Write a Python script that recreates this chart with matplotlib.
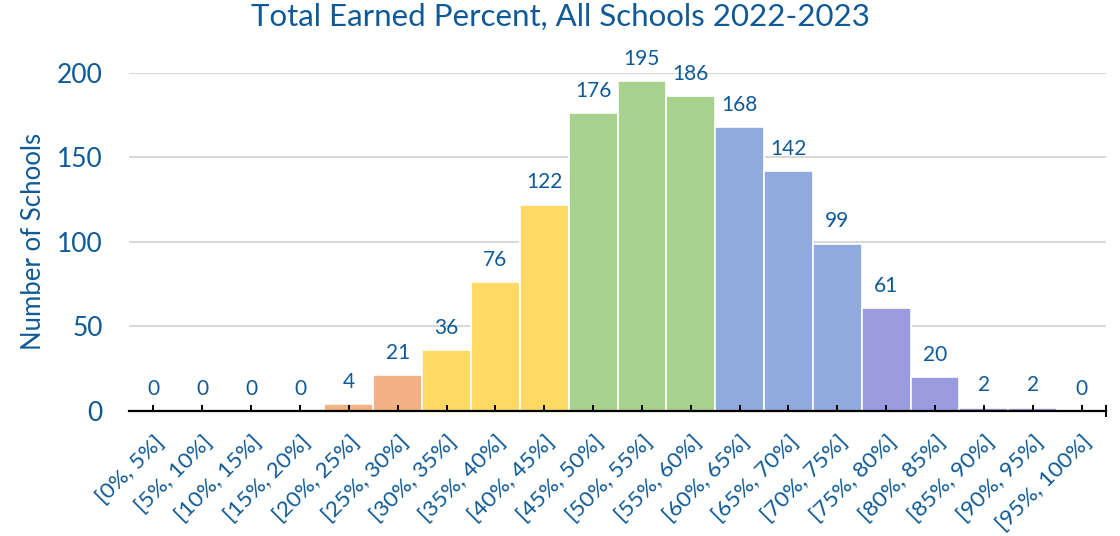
import matplotlib
matplotlib.use("Agg")
import matplotlib.pyplot as plt

categories = ["[0%, 5%]", "[5%, 10%]", "[10%, 15%]", "[15%, 20%]", "[20%, 25%]",
              "[25%, 30%]", "[30%, 35%]", "[35%, 40%]", "[40%, 45%]", "[45%, 50%]",
              "[50%, 55%]", "[55%, 60%]", "[60%, 65%]", "[65%, 70%]", "[70%, 75%]",
              "[75%, 80%]", "[80%, 85%]", "[85%, 90%]", "[90%, 95%]", "[95%, 100%]"]
counts = [0, 0, 0, 0, 4, 21, 36, 76, 122, 176, 195, 186, 168, 142, 99, 61, 20, 2, 2, 0]

ORANGE, YELLOW, GREEN, BLUE, PURPLE = "#f4b183", "#ffd966", "#a9d18e", "#8faadc", "#9b9be0"
bar_colors = [ORANGE] * 6 + [YELLOW] * 3 + [GREEN] * 3 + [BLUE] * 3 + [PURPLE] * 5

TEXT = "#0f5a96"
plt.rcParams["font.family"] = ["Lato", "DejaVu Sans"]

fig = plt.figure(figsize=(11.2, 5.36), dpi=100)
ax = fig.add_axes([0.1152, 0.2332, 0.8723, 0.6312])

x = list(range(len(categories)))
ax.bar(x, counts, width=1.0, color=bar_colors, edgecolor="white", linewidth=1.2, zorder=3)

for xi, v in zip(x, counts):
    ax.annotate(str(v), (xi, v), xytext=(0, 16), textcoords="offset points",
                ha="center", va="center", fontsize=15, color=TEXT, zorder=4)

ax.set_xlim(-0.5, len(categories) - 0.5)
ax.set_ylim(0, 200)
ax.set_yticks([0, 50, 100, 150, 200])
ax.yaxis.grid(True, color="#d9d9d9", linewidth=1.5, zorder=0)
ax.set_axisbelow(True)

for s in ["top", "right", "left"]:
    ax.spines[s].set_visible(False)
ax.spines["bottom"].set_color("black")
ax.spines["bottom"].set_linewidth(1.6)
ax.spines["bottom"].set_zorder(6)
ax.xaxis.set_zorder(6)

ax.set_xticks(x)
ax.set_xticks([len(categories) - 0.5], minor=True)
ax.set_xticklabels(categories, rotation=45, ha="right", rotation_mode="anchor",
                   fontsize=16.2, color=TEXT)
ax.tick_params(axis="x", which="major", direction="in", length=4, width=1.4,
               color="black", pad=15)
ax.tick_params(axis="x", which="minor", direction="inout", length=8, width=1.4,
               color="black")
ax.tick_params(axis="y", length=0, pad=19, labelsize=19, labelcolor=TEXT)

ax.set_ylabel("Number of Schools", fontsize=18.5, color=TEXT, labelpad=8)
fig.suptitle("Total Earned Percent, All Schools 2022-2023", fontsize=22.5, color=TEXT,
             x=0.5, y=0.995, va="top")

fig.savefig("out.png", dpi=100)
